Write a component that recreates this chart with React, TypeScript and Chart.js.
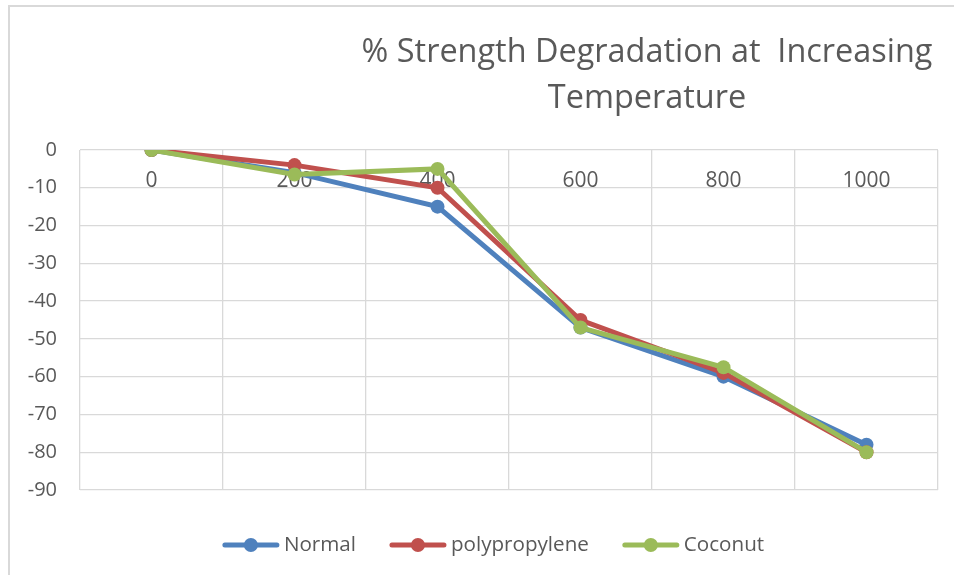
import React, { useEffect, useRef } from "react";
import { Chart, registerables } from "chart.js";

Chart.register(...registerables);

const categories = ["0", "200", "400", "600", "800", "1000"];
const normalValues = [0, -6, -15, -47, -60, -78];
const polypropyleneValues = [0, -4, -10, -45, -59, -80];
const coconutValues = [0, -6.5, -5, -47, -57.5, -80];
const yTicks = [0, -10, -20, -30, -40, -50, -60, -70, -80, -90];
const titleLines = ["% Strength Degradation at  Increasing", "Temperature"];

const FONT = "'Open Sans', Lato, sans-serif";
const TEXT = "#595959";
const GRID = "#d9d9d9";

function fitFont(ctx: CanvasRenderingContext2D, text: string, target: number, base: number) {
  ctx.font = `${base}px ${FONT}`;
  const w = ctx.measureText(text).width;
  return w > 0 ? (base * target) / w : base;
}

const titlePlugin = {
  id: "excelTitle",
  afterDraw(chart: any) {
    const ctx = chart.ctx;
    ctx.save();
    const size = fitFont(ctx, titleLines[0], 571, 30);
    ctx.font = `${size}px ${FONT}`;
    ctx.fillStyle = TEXT;
    ctx.textAlign = "center";
    ctx.textBaseline = "middle";
    const cx = 637;
    ctx.fillText(titleLines[0], cx, 46);
    ctx.fillText(titleLines[1], cx, 92);
    ctx.restore();
  },
};

const legendPlugin = {
  id: "excelLegend",
  afterDraw(chart: any) {
    const ctx = chart.ctx;
    const ds = chart.data.datasets;
    ctx.save();
    const size = fitFont(ctx, "polypropylene", 138, 20);
    ctx.font = `${size}px ${FONT}`;
    const sample = 56;
    const gapText = 5;
    const gapItem = 34;
    const widths = ds.map((d: any) => sample + gapText + ctx.measureText(d.label).width);
    const total = widths.reduce((a: number, b: number) => a + b, 0) + gapItem * (ds.length - 1);
    let x = 483.5 - total / 2;
    const y = chart.chartArea.bottom + 55;
    ds.forEach((d: any, i: number) => {
      ctx.strokeStyle = d.borderColor;
      ctx.lineWidth = 5;
      ctx.lineCap = "round";
      ctx.beginPath();
      ctx.moveTo(x + 2, y);
      ctx.lineTo(x + sample - 2, y);
      ctx.stroke();
      ctx.fillStyle = d.borderColor;
      ctx.beginPath();
      ctx.arc(x + sample / 2, y, 7, 0, Math.PI * 2);
      ctx.fill();
      ctx.fillStyle = TEXT;
      ctx.textAlign = "left";
      ctx.textBaseline = "middle";
      ctx.fillText(d.label, x + sample + gapText, y);
      x += widths[i] + gapItem;
    });
    ctx.restore();
  },
};

export default function App() {
  const ref = useRef<HTMLCanvasElement | null>(null);

  useEffect(() => {
    document.body.style.margin = "0";
    if (!ref.current) return;
    const mk = (label: string, data: number[], color: string, order: number) => ({
      label,
      data,
      borderColor: color,
      backgroundColor: color,
      borderWidth: 5,
      pointRadius: 7,
      pointHoverRadius: 7,
      pointBorderWidth: 0,
      pointBackgroundColor: color,
      tension: 0,
      order,
    });
    const chart = new Chart(ref.current, {
      type: "line",
      data: {
        labels: categories,
        datasets: [
          mk("Normal", normalValues, "#4F81BD", 2),
          mk("polypropylene", polypropyleneValues, "#C0504D", 1),
          mk("Coconut", coconutValues, "#9BBB59", 0),
        ],
      },
      options: {
        animation: false,
        responsive: false,
        devicePixelRatio: 1,
        layout: { padding: { top: 143, right: 16, bottom: 85, left: 0 } },
        plugins: {
          legend: { display: false },
          title: { display: false },
          tooltip: { enabled: false },
        },
        scales: {
          x: {
            type: "category",
            position: { y: 0 } as any,
            offset: true,
            grid: { offset: true, color: GRID, lineWidth: 1.3, drawTicks: false },
            border: { display: false },
            ticks: { color: TEXT, font: { family: FONT, size: 21 }, padding: 18, maxRotation: 0 },
          },
          y: {
            min: -90,
            max: 0,
            afterBuildTicks(axis: any) {
              axis.ticks = yTicks.map((v) => ({ value: v }));
            },
            afterFit(axis: any) {
              axis.width = 70;
            },
            grid: { color: GRID, lineWidth: 1.3, drawTicks: false },
            border: { display: false },
            ticks: { color: TEXT, font: { family: FONT, size: 20 }, padding: 23 },
          },
        },
      },
      plugins: [titlePlugin, legendPlugin],
    });
    return () => chart.destroy();
  }, []);

  return (
    <div
      style={{
        marginLeft: 8,
        marginTop: 5,
        width: 946,
        height: 570,
        overflow: "hidden",
        boxSizing: "border-box",
        borderLeft: `2px solid ${GRID}`,
        borderTop: `2px solid ${GRID}`,
        background: "#fff",
      }}
    >
      <canvas ref={ref} width={944} height={568} style={{ display: "block" }} />
    </div>
  );
}
